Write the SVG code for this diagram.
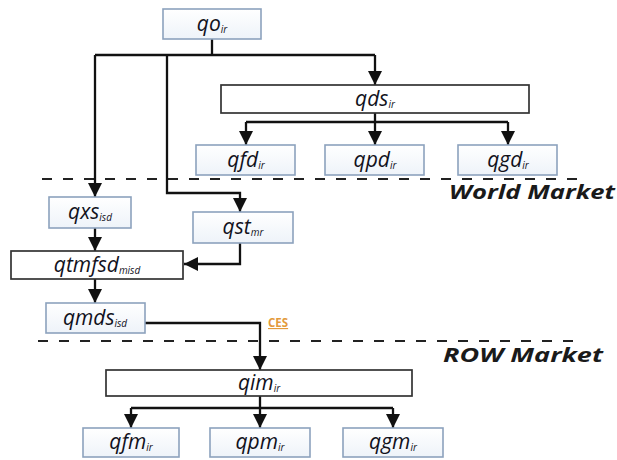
<svg xmlns="http://www.w3.org/2000/svg" width="617" height="460" viewBox="0 0 617 460">
  <defs>
    <linearGradient id="boxFill" x1="0" y1="0" x2="0" y2="1">
      <stop offset="0" stop-color="#ffffff"/>
      <stop offset="1" stop-color="#eef3f9"/>
    </linearGradient>
    <marker id="arrow" viewBox="0 0 14 14" refX="14" refY="7" markerWidth="14" markerHeight="14" markerUnits="userSpaceOnUse" orient="auto">
      <path d="M0,0 L14,7 L0,14 Z" fill="#111"/>
    </marker>
    <style>
      .var { fill: url(#boxFill); stroke: #8ca2bd; stroke-width: 1.6; }
      .agg { fill: #ffffff; stroke: #333333; stroke-width: 1.7; }
      .lbl { font-family: "Open Sans", "DejaVu Sans", sans-serif; font-style: italic; font-weight: 500; font-size: 21px; fill: #12121c; text-anchor: middle; }
      .sub { font-size: 10px; }
      .link { fill: none; stroke: #111; stroke-width: 2.3; }
      .arr { marker-end: url(#arrow); }
      .divider { stroke: #222; stroke-width: 2; stroke-dasharray: 10 11; }
      .market { font-family: "Open Sans", "DejaVu Sans", sans-serif; font-style: italic; font-weight: bold; font-size: 20px; fill: #1a1a1a; }
      .ces { font-family: "Open Sans", "Liberation Sans", sans-serif; font-weight: bold; font-size: 11.5px; fill: #e39a3c; text-decoration: underline; }
    </style>
  </defs>

  <rect width="617" height="460" fill="#ffffff"/>

  <!-- market dividers -->
  <g id="dividers">
    <line class="divider" x1="42" y1="179" x2="577" y2="179"/>
    <line class="divider" x1="38" y1="341" x2="577" y2="341"/>
    <text class="market" x="449" y="199" textLength="166" lengthAdjust="spacingAndGlyphs">World Market</text>
    <text class="market" x="443" y="362" textLength="160" lengthAdjust="spacingAndGlyphs">ROW Market</text>
  </g>

  <!-- connectors -->
  <g id="connectors">
    <!-- output split -->
    <polyline class="link" points="212,39 212,55"/>
    <polyline class="link" points="95,55 375,55"/>
    <polyline class="link arr" points="375,55 375,85"/>
    <polyline class="link arr" points="95,55 95,197"/>
    <polyline class="link arr" points="167,55 167,193 240,193 240,212"/>
    <!-- domestic sales split -->
    <polyline class="link" points="375,113 375,122"/>
    <polyline class="link" points="246,122 508,122"/>
    <polyline class="link arr" points="246,122 246,145"/>
    <polyline class="link arr" points="375,122 375,145"/>
    <polyline class="link arr" points="508,122 508,145"/>
    <!-- trade chain -->
    <polyline class="link arr" points="95,228 95,251"/>
    <polyline class="link arr" points="240,243 240,264 184,264"/>
    <polyline class="link arr" points="95,279 95,303"/>
    <polyline class="link arr" points="145,323 260,323 260,370"/>
    <!-- import split -->
    <polyline class="link" points="260,396 260,408"/>
    <polyline class="link" points="131,408 393,408"/>
    <polyline class="link arr" points="131,408 131,428"/>
    <polyline class="link arr" points="260,408 260,428"/>
    <polyline class="link arr" points="393,408 393,428"/>
    <text class="ces" x="268" y="327">CES</text>
  </g>

  <g id="qo">
    <rect class="var" x="163" y="9" width="98" height="30"/>
    <text class="lbl" x="212" y="31">qo<tspan class="sub" dy="2">ir</tspan></text>
  </g>
  <g id="qds">
    <rect class="agg" x="221" y="85" width="308" height="28"/>
    <text class="lbl" x="375" y="106">qds<tspan class="sub" dy="2">ir</tspan></text>
  </g>
  <g id="qfd">
    <rect class="var" x="196" y="145" width="99" height="30"/>
    <text class="lbl" x="246" y="167">qfd<tspan class="sub" dy="2">ir</tspan></text>
  </g>
  <g id="qpd">
    <rect class="var" x="325" y="145" width="99" height="30"/>
    <text class="lbl" x="375" y="167">qpd<tspan class="sub" dy="2">ir</tspan></text>
  </g>
  <g id="qgd">
    <rect class="var" x="458" y="145" width="99" height="30"/>
    <text class="lbl" x="508" y="167">qgd<tspan class="sub" dy="2">ir</tspan></text>
  </g>
  <g id="qxs">
    <rect class="var" x="49" y="197" width="82" height="31"/>
    <text class="lbl" x="90" y="219">qxs<tspan class="sub" dy="2">isd</tspan></text>
  </g>
  <g id="qst">
    <rect class="var" x="193" y="212" width="100" height="31"/>
    <text class="lbl" x="243" y="234">qst<tspan class="sub" dy="2">mr</tspan></text>
  </g>
  <g id="qtmfsd">
    <rect class="agg" x="11" y="251" width="172" height="28"/>
    <text class="lbl" x="97" y="272">qtmfsd<tspan class="sub" dy="2">misd</tspan></text>
  </g>
  <g id="qmds">
    <rect class="var" x="46" y="303" width="99" height="30"/>
    <text class="lbl" x="95" y="325">qmds<tspan class="sub" dy="2">isd</tspan></text>
  </g>
  <g id="qim">
    <rect class="agg" x="106" y="370" width="306" height="26"/>
    <text class="lbl" x="259" y="390">qim<tspan class="sub" dy="2">ir</tspan></text>
  </g>
  <g id="qfm">
    <rect class="var" x="83" y="428" width="96" height="29"/>
    <text class="lbl" x="131" y="449">qfm<tspan class="sub" dy="2">ir</tspan></text>
  </g>
  <g id="qpm">
    <rect class="var" x="210" y="428" width="100" height="29"/>
    <text class="lbl" x="260" y="449">qpm<tspan class="sub" dy="2">ir</tspan></text>
  </g>
  <g id="qgm">
    <rect class="var" x="343" y="428" width="100" height="29"/>
    <text class="lbl" x="393" y="449">qgm<tspan class="sub" dy="2">ir</tspan></text>
  </g>
</svg>
